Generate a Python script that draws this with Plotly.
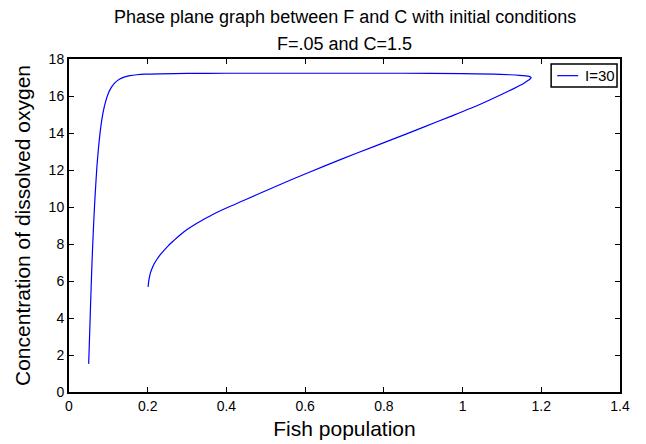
import plotly.graph_objects as go

# Trajectory (fish population F, dissolved oxygen C)
fish = [0.050, 0.053, 0.056, 0.059, 0.062, 0.065, 0.068, 0.071, 0.075, 0.080, 0.086,
        0.093, 0.100, 0.108, 0.117, 0.128, 0.140, 0.155, 0.172, 0.195, 0.230, 0.300,
        0.400, 0.550, 0.700, 0.850, 1.000, 1.080, 1.120, 1.145, 1.160, 1.169, 1.174,
        1.173, 1.168, 1.156, 1.130, 1.096, 1.045, 0.970, 0.901, 0.820, 0.732, 0.650,
        0.563, 0.500, 0.448, 0.400, 0.375, 0.351, 0.325, 0.300, 0.283, 0.266, 0.252,
        0.240, 0.231, 0.224, 0.218, 0.214, 0.210, 0.207, 0.205, 0.203, 0.202, 0.201]
oxygen = [1.52, 3.5, 5.5, 7.3, 8.8, 10.1, 11.2, 12.2, 13.2, 14.2, 15.05,
          15.7, 16.15, 16.48, 16.72, 16.9, 17.02, 17.10, 17.15, 17.18, 17.20, 17.22,
          17.23, 17.23, 17.23, 17.23, 17.21, 17.18, 17.15, 17.12, 17.09, 17.06, 17.01,
          16.95, 16.86, 16.69, 16.40, 16.05, 15.55, 14.90, 14.32, 13.64, 12.92, 12.22,
          11.46, 10.88, 10.39, 9.95, 9.70, 9.43, 9.12, 8.78, 8.50, 8.18, 7.90,
          7.62, 7.40, 7.19, 6.99, 6.82, 6.62, 6.45, 6.27, 6.05, 5.89, 5.68]
series_name = "I=30"

title_lines = ["Phase plane graph between F and C with initial conditions", "F=.05 and C=1.5"]

x_ticks = [0, 0.2, 0.4, 0.6, 0.8, 1.0, 1.2, 1.4]
x_tick_labels = ["0", "0.2", "0.4", "0.6", "0.8", "1", "1.2", "1.4"]
y_ticks = [0, 2, 4, 6, 8, 10, 12, 14, 16, 18]
y_tick_labels = ["0", "2", "4", "6", "8", "10", "12", "14", "16", "18"]

FONT = "Liberation Sans, Arial, Helvetica, sans-serif"
BLUE = "#0000ff"

fig = go.Figure()
fig.add_trace(go.Scatter(x=fish, y=oxygen, mode="lines", name=series_name,
                         line=dict(color=BLUE, width=1.2, shape="spline", smoothing=0.8),
                         showlegend=False))

axis_common = dict(showgrid=False, zeroline=False, showline=True, linecolor="black",
                   linewidth=2, mirror="ticks", ticks="inside", ticklen=5, tickwidth=1,
                   tickcolor="black", tickfont=dict(family=FONT, size=14, color="black"),
                   automargin=False)

fig.update_layout(
    width=646, height=444,
    margin=dict(l=69, r=26, t=59, b=52),
    paper_bgcolor="white", plot_bgcolor="white",
    xaxis=dict(range=[0, 1.4], tickvals=x_ticks, ticktext=x_tick_labels,
               title=dict(text="Fish population", font=dict(family=FONT, size=21, color="black"),
                          standoff=9), **axis_common),
    yaxis=dict(range=[0, 18], tickvals=y_ticks, ticktext=y_tick_labels,
               title=dict(text="Concentration of dissolved oxygen",
                          font=dict(family=FONT, size=21, color="black"), standoff=12),
               **axis_common),
    showlegend=False,
)

# Title (two centred lines above the plot area)
for line_text, ypos in zip(title_lines, [1.126, 1.045]):
    fig.add_annotation(text=line_text, xref="paper", yref="paper", x=0.5, y=ypos,
                       xanchor="center", yanchor="middle", showarrow=False,
                       font=dict(family=FONT, size=18, color="black"))

# Legend box (MATLAB style, top-right inside the axes)
fig.add_shape(type="rect", xref="paper", yref="paper", x0=0.875, x1=0.9946, y0=0.916, y1=0.985,
              line=dict(color="black", width=1.5), fillcolor="white", layer="above")
fig.add_shape(type="line", xref="paper", yref="paper", x0=0.886, x1=0.924, y0=0.950, y1=0.950,
              line=dict(color=BLUE, width=1.2), layer="above")
fig.add_annotation(text=series_name, xref="paper", yref="paper", x=0.932, y=0.950,
                   xanchor="left", yanchor="middle", showarrow=False,
                   font=dict(family=FONT, size=15, color="black"))

fig.write_html("out.html")
